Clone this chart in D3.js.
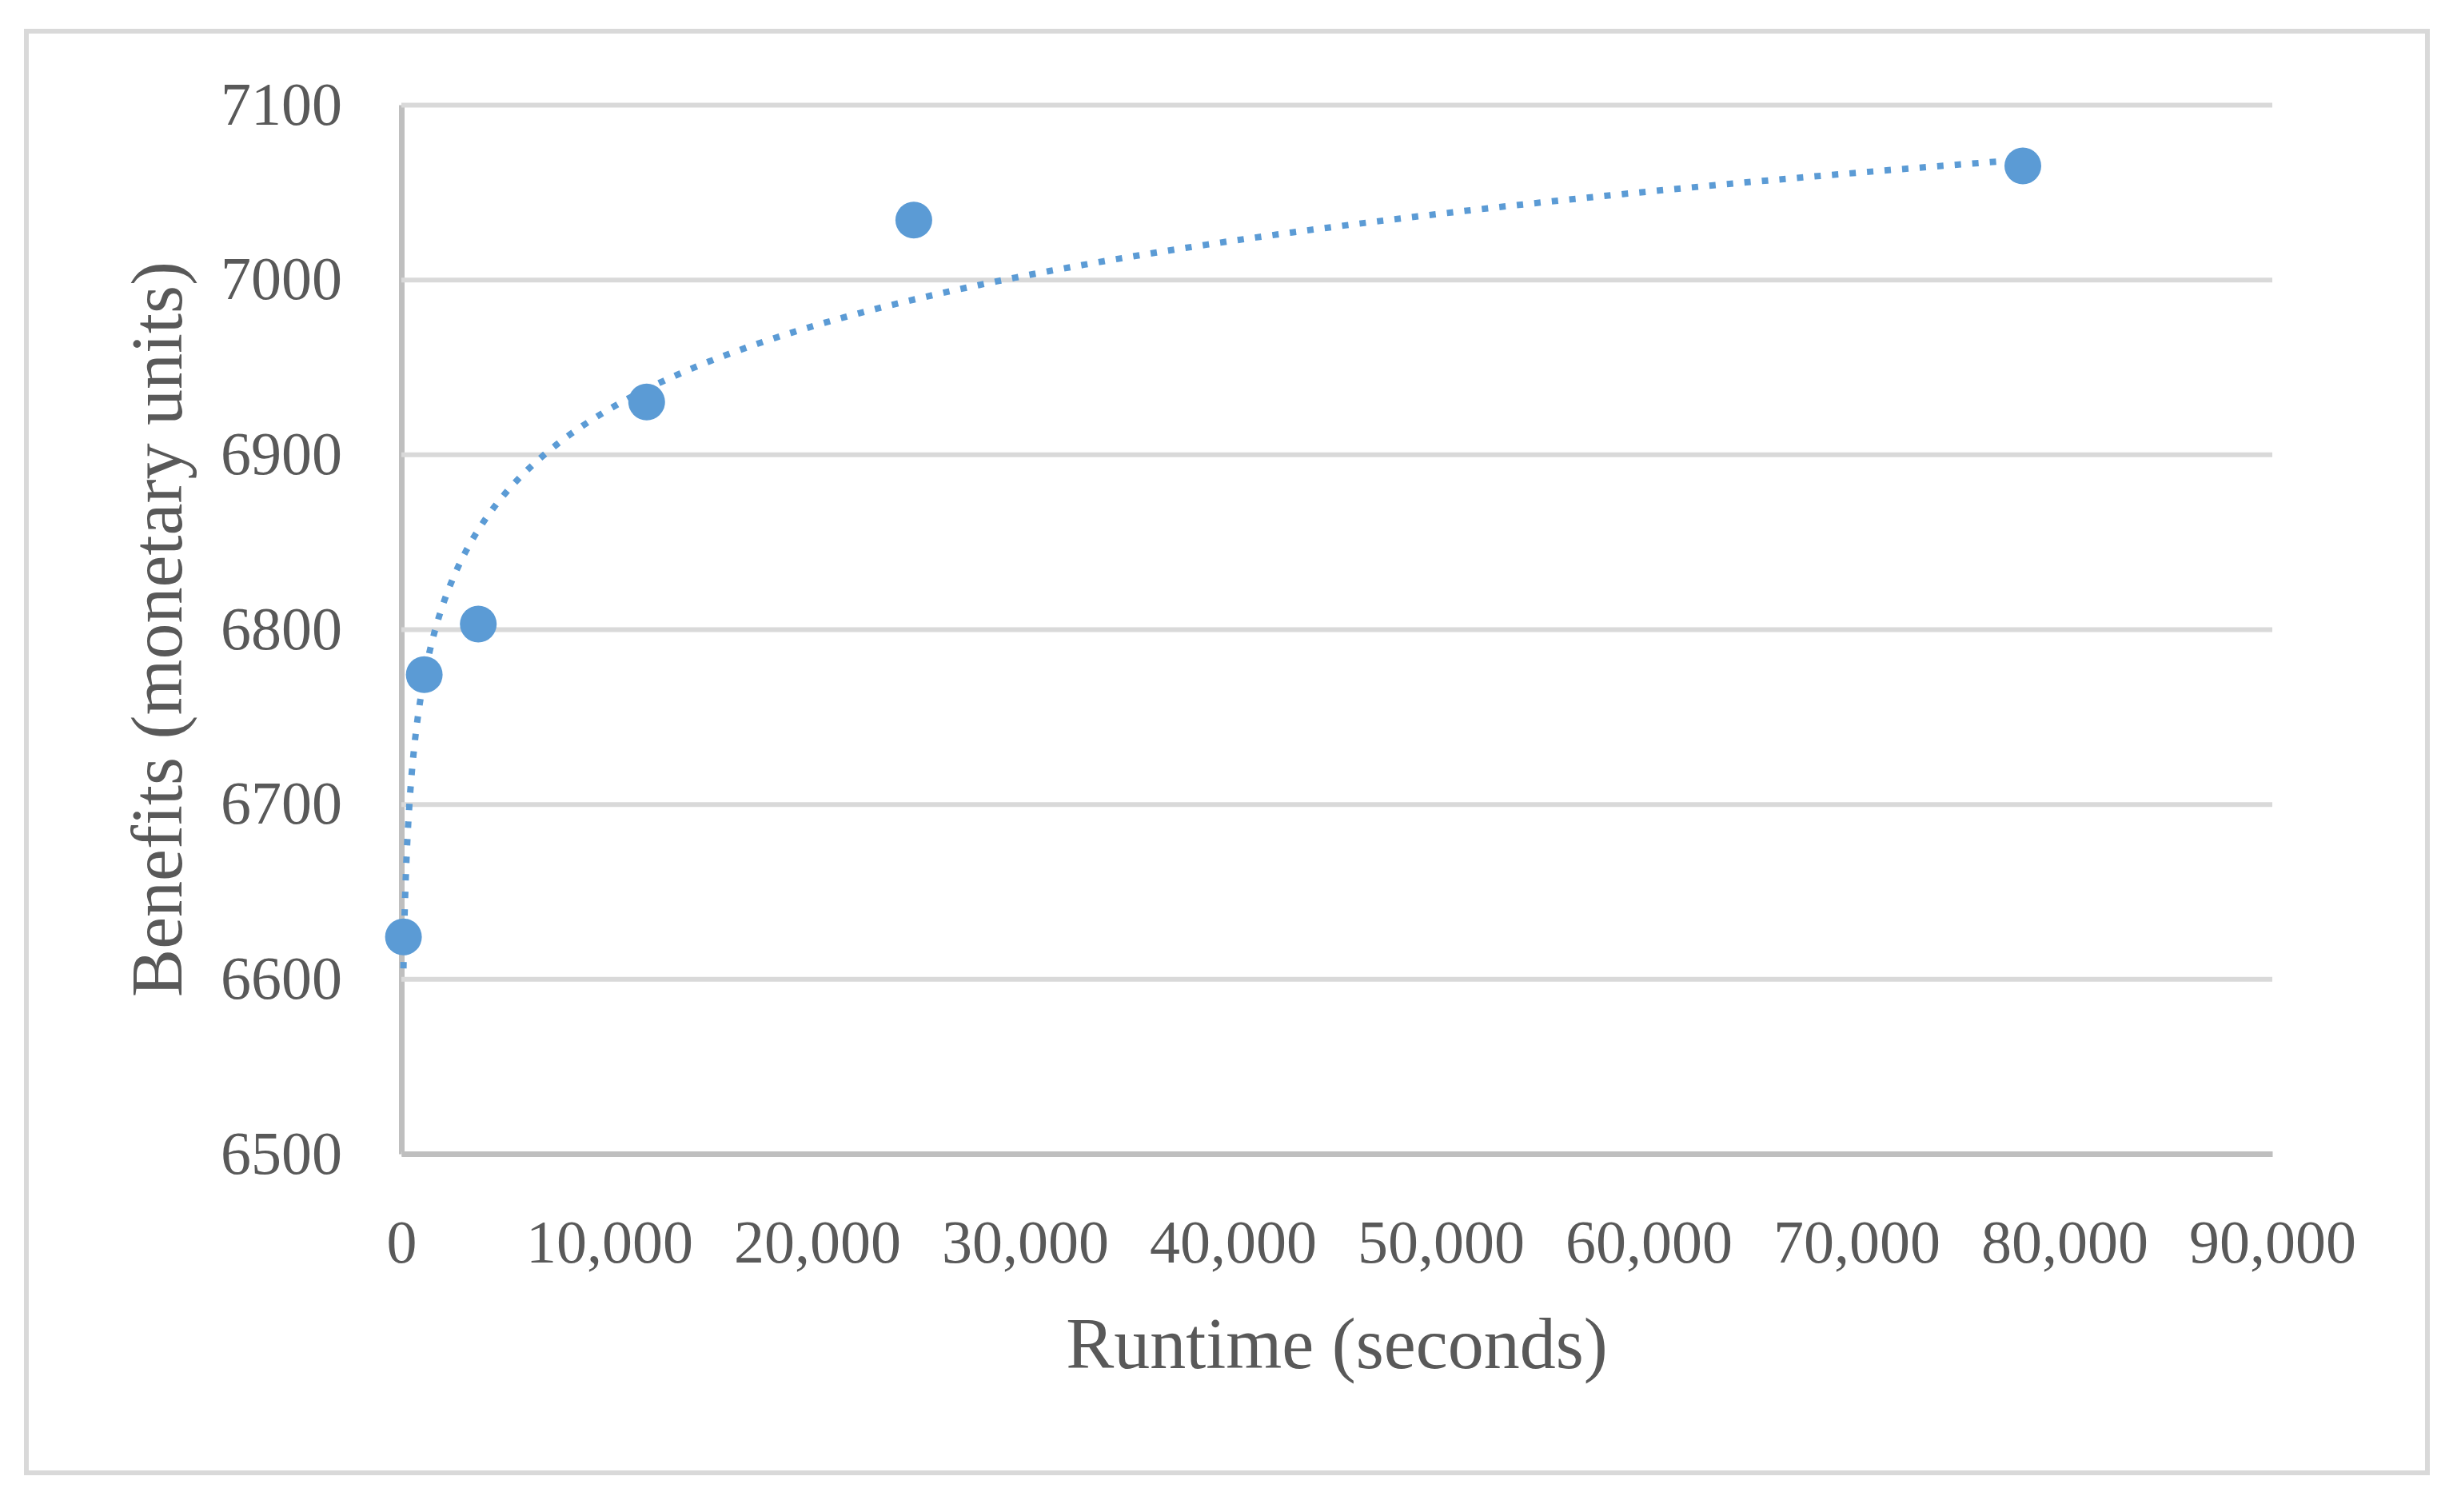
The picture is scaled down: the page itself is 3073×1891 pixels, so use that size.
<!DOCTYPE html>
<html>
<head>
<meta charset="utf-8">
<script src="https://cdn.jsdelivr.net/npm/d3@7"></script>
<style>
  body { margin: 0; background: #fff; }
  text { font-family: "Liberation Serif", serif; fill: #595959; }
</style>
</head>
<body>
<script>
// runtime (seconds) and benefits
var runtimes = [100, 1100, 3700, 11800, 24650, 78000];
var benefits = [6624, 6774, 6803, 6930, 7034, 7065];
var xTicks = [0, 10000, 20000, 30000, 40000, 50000, 60000, 70000, 80000, 90000];
var yTicks = [6500, 6600, 6700, 6800, 6900, 7000, 7100];
var xTitle = "Runtime (seconds)";
var yTitle = "Benefits (monetary units)";

var width = 3073, height = 1891;
var margin = {left: 502, right: 231, top: 131, bottom: 448};
var plotW = width - margin.left - margin.right;
var plotH = height - margin.top - margin.bottom;

var svg = d3.select("body").append("svg")
    .attr("width", width)
    .attr("height", height);

// outer chart border
svg.append("rect")
    .attr("x", 33).attr("y", 39)
    .attr("width", 3003).attr("height", 1803)
    .attr("fill", "none")
    .attr("stroke", "#d9d9d9")
    .attr("stroke-width", 6);

var g = svg.append("g")
    .attr("transform", "translate(" + margin.left + "," + margin.top + ")");

var x = d3.scaleLinear().domain([0, 90000]).range([0, plotW]);
var y = d3.scaleLinear().domain([6500, 7100]).range([plotH, 0]);

// y axis with gridlines
var yAxis = g.append("g")
    .call(d3.axisLeft(y).tickValues(yTicks).tickSize(-plotW).tickSizeOuter(0)
        .tickPadding(74).tickFormat(d3.format("d")));
yAxis.selectAll(".tick line").attr("stroke", "#d9d9d9").attr("stroke-width", 6);
yAxis.select(".domain").attr("stroke", "#bfbfbf").attr("stroke-width", 7);
yAxis.selectAll("text").style("font-size", "76px").attr("fill", "#595959");
yAxis.attr("font-family", null);

// x axis
var xAxis = g.append("g")
    .attr("transform", "translate(0," + plotH + ")")
    .call(d3.axisBottom(x).tickValues(xTicks).tickSize(0).tickPadding(82).tickFormat(d3.format(",")));
xAxis.select(".domain").attr("stroke", "#bfbfbf").attr("stroke-width", 7);
xAxis.selectAll("text").style("font-size", "76px").attr("fill", "#595959");
xAxis.attr("font-family", null);

// logarithmic trend line fitted to the points
var lx = runtimes.map(function(d) { return Math.log(d); });
var mx = d3.mean(lx), my = d3.mean(benefits);
var sxy = 0, sxx = 0;
for (var i = 0; i < lx.length; i++) {
    sxy += (lx[i] - mx) * (benefits[i] - my);
    sxx += (lx[i] - mx) * (lx[i] - mx);
}
var slope = sxy / sxx, icpt = my - slope * mx;
var xmin = d3.min(runtimes), xmax = d3.max(runtimes);
var trend = d3.range(0, 401).map(function(k) {
    var t = xmin * Math.pow(xmax / xmin, k / 400);
    return [t, icpt + slope * Math.log(t)];
});
g.append("path")
    .datum(trend)
    .attr("fill", "none")
    .attr("stroke", "#5b9bd5")
    .attr("stroke-width", 8)
    .attr("stroke-dasharray", "8 14")
    .attr("d", d3.line().x(function(d) { return x(d[0]); }).y(function(d) { return y(d[1]); }));

// points
g.selectAll("circle.pt")
    .data(runtimes)
    .enter().append("circle").attr("class", "pt")
    .attr("cx", function(d) { return x(d); })
    .attr("cy", function(d, i) { return y(benefits[i]); })
    .attr("r", 23)
    .attr("fill", "#5b9bd5");

// axis titles
svg.append("text")
    .attr("x", margin.left + plotW / 2)
    .attr("y", 1711)
    .attr("text-anchor", "middle")
    .style("font-size", "90px")
    .text(xTitle);

svg.append("text")
    .attr("transform", "translate(227," + (margin.top + plotH / 2) + ") rotate(-90)")
    .attr("text-anchor", "middle")
    .style("font-size", "90px")
    .text(yTitle);
</script>
</body>
</html>
